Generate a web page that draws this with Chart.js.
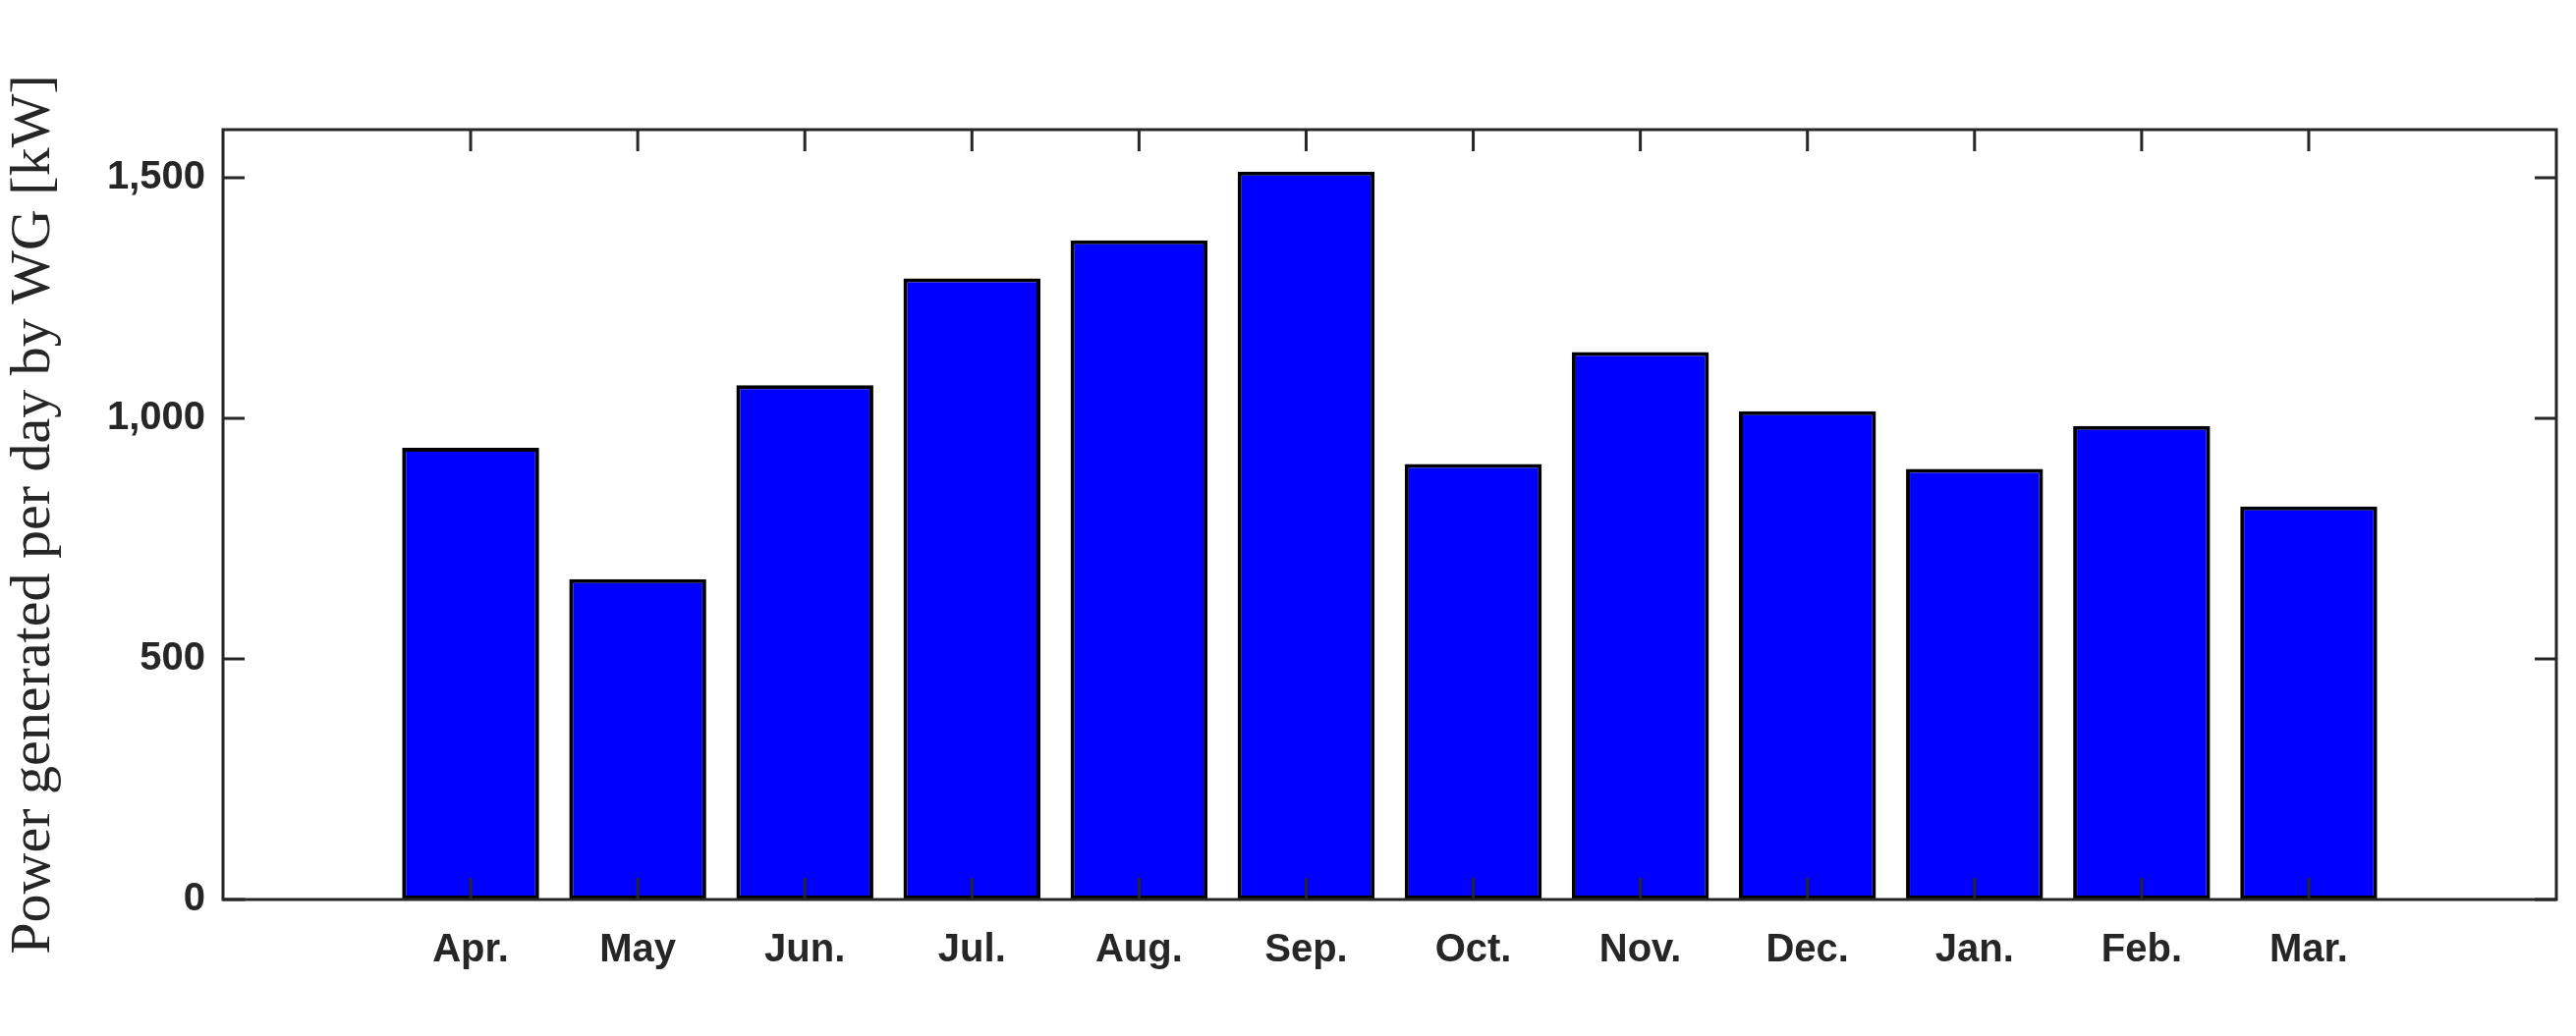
<!DOCTYPE html>
<html>
<head>
<meta charset="utf-8">
<script src="https://cdn.jsdelivr.net/npm/chart.js@4/dist/chart.umd.min.js"></script>
<style>
  html, body { margin: 0; padding: 0; background: #fff; }
  #wrap { width: 2622px; height: 1055px; }
</style>
</head>
<body>
<div id="wrap"><canvas id="chart" width="2622" height="1055"></canvas></div>
<script>
const months = ['Apr.', 'May', 'Jun.', 'Jul.', 'Aug.', 'Sep.', 'Oct.', 'Nov.', 'Dec.', 'Jan.', 'Feb.', 'Mar.']
const power = [939, 666, 1069, 1291, 1370, 1513, 905, 1138, 1015, 895, 984, 817]
const yTicks = [0, 500, 1000, 1500]

const axisColor = '#262626'

// frame + inward ticks like matlab
const boxPlugin = {
    id: 'box',
    afterDraw(chart) {
        const { ctx, chartArea: a, scales } = chart
        ctx.save()
        ctx.strokeStyle = axisColor
        ctx.lineWidth = 3
        ctx.strokeRect(a.left, a.top, a.right - a.left, a.bottom - a.top)
        const len = 22
        months.forEach((m, i) => {
            const x = scales.x.getPixelForValue(i + 1)
            ctx.beginPath()
            ctx.moveTo(x, a.bottom); ctx.lineTo(x, a.bottom - len)
            ctx.moveTo(x, a.top); ctx.lineTo(x, a.top + len)
            ctx.stroke()
        })
        yTicks.forEach(v => {
            const y = scales.y.getPixelForValue(v)
            ctx.beginPath()
            ctx.moveTo(a.left, y); ctx.lineTo(a.left + len, y)
            ctx.moveTo(a.right, y); ctx.lineTo(a.right - len, y)
            ctx.stroke()
        })
        ctx.restore()
    }
}

const ctx = document.getElementById('chart').getContext('2d')
new Chart(ctx, {
    type: 'bar',
    data: {
        datasets: [{
            data: power.map((v, i) => ({ x: i + 1, y: v })),
            backgroundColor: '#0000ff',
            borderColor: '#000000',
            borderWidth: 4,
            borderSkipped: false,
            barPercentage: 1,
            categoryPercentage: 0.82
        }]
    },
    options: {
        responsive: false,
        animation: false,
        devicePixelRatio: 1,
        layout: { padding: { top: 132, right: 20, left: 0, bottom: 0 } },
        plugins: { legend: { display: false }, tooltip: { enabled: false } },
        scales: {
            x: {
                type: 'linear',
                min: 0.1,
                max: 12.9,
                afterBuildTicks: s => { s.ticks = months.map((m, i) => ({ value: i + 1 })) },
                afterFit: s => { s.height = 139 },
                grid: { display: false, drawTicks: false },
                border: { display: false },
                ticks: {
                    padding: 28,
                    color: axisColor,
                    font: { family: 'Liberation Sans', weight: 'bold', size: 40 },
                    callback: v => months[v - 1] || ''
                }
            },
            y: {
                min: 0,
                max: 1600,
                afterBuildTicks: s => { s.ticks = yTicks.map(v => ({ value: v })) },
                afterFit: s => { s.width = 227 },
                grid: { display: false, drawTicks: false },
                border: { display: false },
                ticks: {
                    padding: 18,
                    color: axisColor,
                    font: { family: 'Liberation Sans', weight: 'bold', size: 40 }
                },
                title: {
                    display: true,
                    text: 'Power generated per day by WG [kW]',
                    color: axisColor,
                    padding: { top: 0, bottom: 10 },
                    font: { family: 'Liberation Serif', size: 58 }
                }
            }
        }
    },
    plugins: [boxPlugin]
})
</script>
</body>
</html>
